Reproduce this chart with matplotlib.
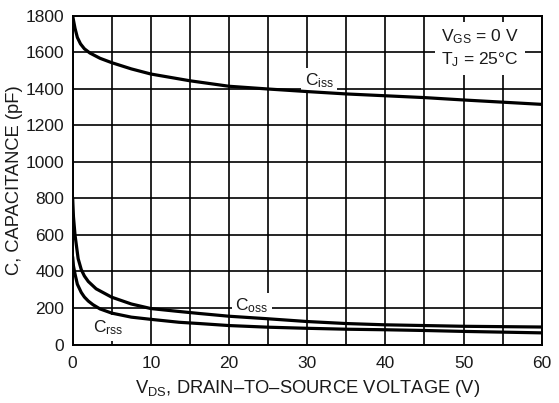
import matplotlib
matplotlib.use("Agg")
import matplotlib.pyplot as plt
from matplotlib.ticker import MultipleLocator

plt.rcParams["font.family"] = ["Liberation Sans", "DejaVu Sans"]
plt.rcParams["mathtext.fontset"] = "custom"
plt.rcParams["mathtext.rm"] = "Liberation Sans"
plt.rcParams["mathtext.it"] = "Liberation Sans"
plt.rcParams["mathtext.bf"] = "Liberation Sans:bold"

# capacitance vs drain-source voltage (pF)
vds_iss = [0, 0.1, 0.3, 0.6, 1.0, 1.5, 2.2, 3.5, 5, 7.5, 10, 15, 20, 25, 30, 35, 40, 45, 50, 55, 60]
ciss = [1800, 1775, 1730, 1680, 1645, 1618, 1595, 1566, 1542, 1508, 1480, 1443, 1413, 1398,
        1384, 1371, 1361, 1351, 1338, 1326, 1314]

vds_oss = [0, 0.1, 0.3, 0.7, 1.1, 1.5, 2, 3, 5, 7.5, 10, 13.6, 16.2, 20, 25, 30, 35, 40, 45,
           50, 55, 60]
coss = [800, 700, 600, 470, 410, 375, 345, 305, 259, 222, 197, 181, 170, 155, 141, 126, 115,
        108, 104, 100, 98, 96]

vds_rss = [0, 0.1, 0.3, 0.6, 1.1, 1.5, 2, 2.6, 3.5, 5, 7.5, 10, 13.6, 16.2, 20, 25, 30, 35, 40,
           45, 50, 55, 60]
crss = [480, 430, 386, 330, 285, 260, 238, 218, 195, 172, 150, 138, 122, 115, 104, 95, 89, 84,
        81, 77, 72, 68, 64]

INK = "#1a1a1a"
FS = 12.5
LABEL_FS = 13.2

fig = plt.figure(figsize=(5.59, 4.03), dpi=100)
ax = fig.add_axes([0.130, 0.145, 0.839, 0.8165])

for x, y in [(vds_iss, ciss), (vds_oss, coss), (vds_rss, crss)]:
    ax.plot(x, y, color="black", lw=2.3, solid_capstyle="round", solid_joinstyle="round",
            zorder=4)

ax.set_xlim(0, 60)
ax.set_ylim(0, 1800)
ax.xaxis.set_major_locator(MultipleLocator(10))
ax.xaxis.set_minor_locator(MultipleLocator(5))
ax.yaxis.set_major_locator(MultipleLocator(200))
ax.set_axisbelow(True)
ax.grid(which="both", color="black", lw=1.2)
ax.tick_params(which="both", length=0, labelsize=FS, labelcolor=INK)
ax.tick_params(axis="x", pad=8)
ax.tick_params(axis="y", pad=6)
for sp in ax.spines.values():
    sp.set_linewidth(1.4)

ax.set_xlabel("V$_{\\mathrm{DS}}$, DRAIN\u2013TO\u2013SOURCE VOLTAGE (V)",
              fontsize=LABEL_FS, color=INK, labelpad=5)
ax.set_ylabel("C, CAPACITANCE (pF)", fontsize=LABEL_FS, color=INK, labelpad=2)

box = dict(boxstyle="square,pad=0.2", facecolor="white", edgecolor="none")
ax.text(29.7, 1420, r"C$_{\mathrm{iss}}$", fontsize=FS, color=INK, va="baseline",
        ha="left", bbox=box, zorder=3)
ax.text(20.8, 189, r"C$_{\mathrm{oss}}$", fontsize=FS, color=INK, va="baseline",
        ha="left", bbox=box, zorder=3)
ax.text(2.6, 65, r"C$_{\mathrm{rss}}$", fontsize=FS, color=INK, va="baseline",
        ha="left", bbox=box, zorder=3)

cond = dict(boxstyle="square,pad=0.35", facecolor="white", edgecolor="none")
ax.text(52.1, 1682, r"V$_{\mathrm{GS}}$ = 0 V", fontsize=FS, color=INK, ha="center",
        va="center", bbox=cond, zorder=3)
ax.text(52.1, 1558, r"T$_{\mathrm{J}}$ = 25°C", fontsize=FS, color=INK, ha="center",
        va="center", bbox=cond, zorder=3)

fig.savefig("out.png", dpi=100)
